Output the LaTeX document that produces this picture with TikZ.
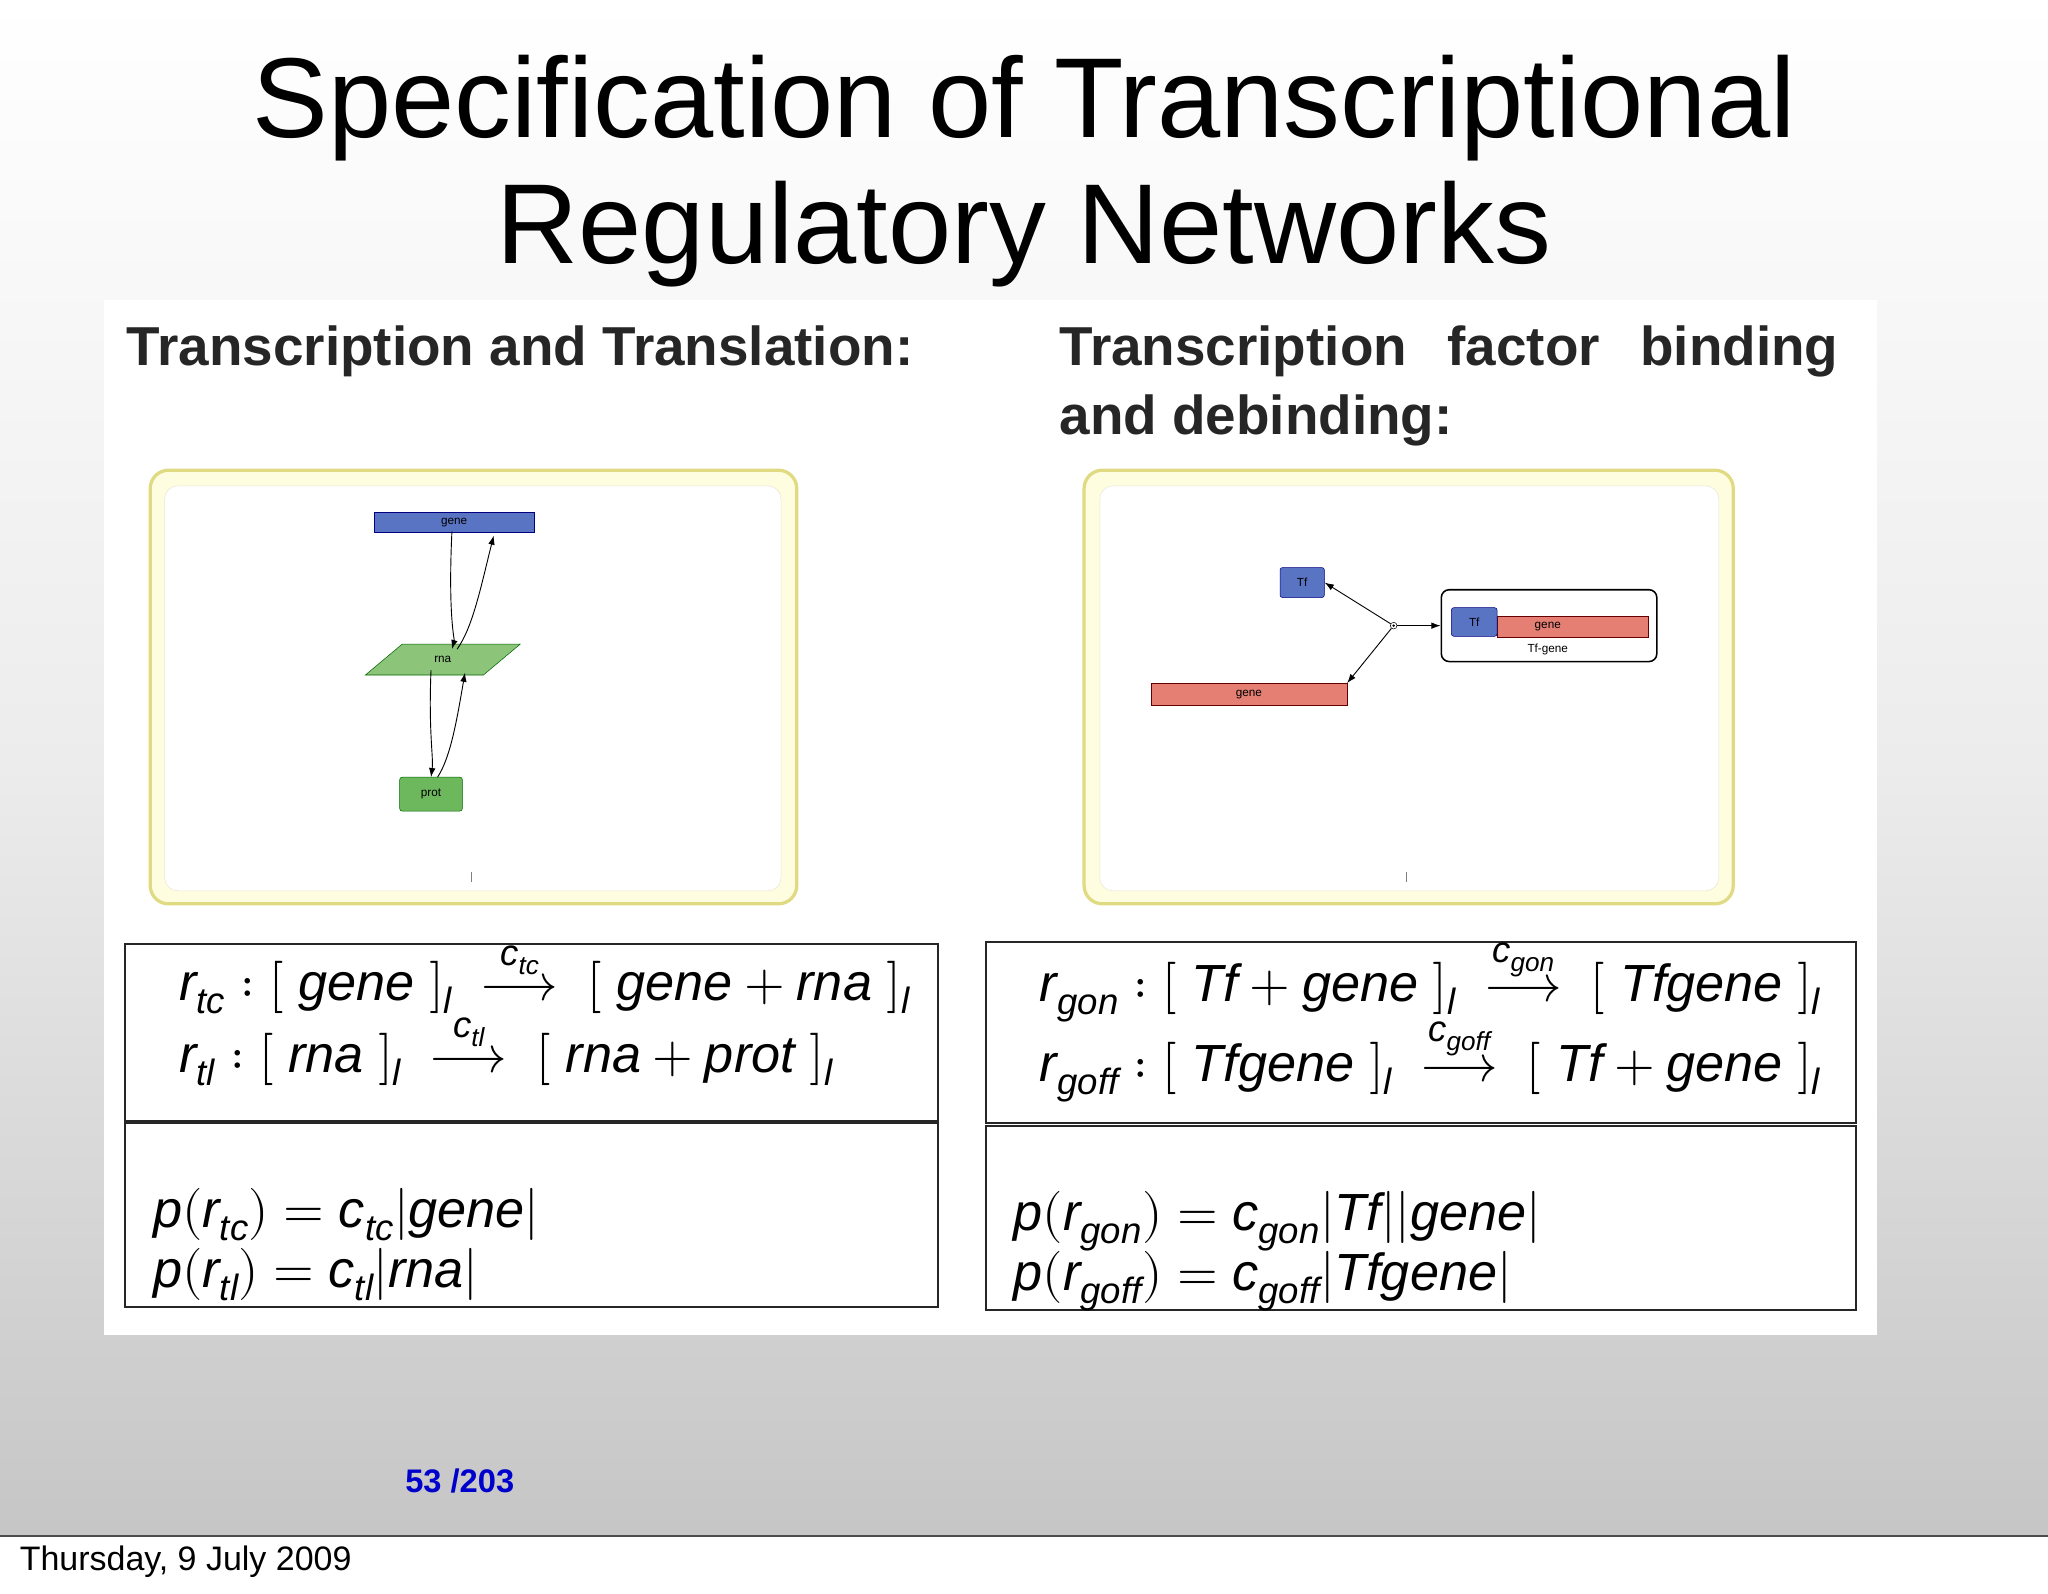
\documentclass[tikz,border=0pt]{standalone}
\usepackage{amsmath}
\usepackage{fontspec}
\usepackage{unicode-math}
\setmainfont{Liberation Sans}
\setmathfont{Latin Modern Math}
\usetikzlibrary{shapes.geometric,arrows.meta}
\definecolor{nblue}{HTML}{5A74C4}
\definecolor{ngreen}{HTML}{8CC47A}
\definecolor{pgreen}{HTML}{6DB85C}
\definecolor{nred}{HTML}{E57F73}
\newcommand{\mi}[1]{\mathit{#1}}
\newcommand{\rarr}[1]{\mathrel{\vbox{\offinterlineskip\halign{\hfil##\hfil\cr$\scriptstyle #1$\cr\noalign{\kern-1pt}$\longrightarrow$\cr}}}}
\begin{document}
\begin{tikzpicture}[x=1pt,y=-1pt,
  hd/.style={anchor=base west,font=\fontsize{42}{48}\selectfont\bfseries,text=black!85,inner sep=0},
  frame/.style={draw=yellow!60!gray!70,fill=yellow!12,line width=2.5pt,rounded corners=14pt},
  inner/.style={fill=white,draw=yellow!30!gray!30,rounded corners=10pt},
  tiny/.style={font=\fontsize{9}{10}\selectfont,inner sep=0},
  eqbox/.style={draw=black!85,line width=1.5pt},
  eq/.style={anchor=base west,inner sep=0,font=\fontsize{40}{46}\selectfont},
  arr/.style={-{Latex[length=7pt,width=5pt]},line width=0.7pt}]
\useasboundingbox (0,0) rectangle (1568,1220);
\fill[white] (0,0) rectangle (1568,1220);
\shade[top color=white,bottom color=gray!45,middle color=gray!15] (0,0) rectangle (1568,1176);
\draw[black!70,line width=1pt] (0,1176) -- (1568,1176);
\node[anchor=base,font=\fontsize{87}{100}\selectfont] (t1) at (784,105) {Specification of Transcriptional};
\node[anchor=base,font=\fontsize{87}{100}\selectfont] (t2) at (784,202) {Regulatory Networks};
\fill[white] (80,230) rectangle (1437,1022);
\node[hd] (h1) at (97,280) {Transcription and Translation:};
\node[hd] (h2) at (811,280) {Transcription\hspace{31pt}factor\hspace{31pt}binding};
\node[hd] (h3) at (811,333) {and debinding:};
% left frame
\draw[frame] (115,360) rectangle (610,692);
\draw[inner] (126,372) rectangle (598,682);
\node[draw=blue!50!black,fill=nblue,minimum width=123pt,minimum height=15pt,tiny,anchor=north west] (g) at (286,392) {gene};
\node[trapezium,trapezium left angle=40,trapezium right angle=140,draw=green!40!black,fill=ngreen,minimum width=119pt,minimum height=16pt,inner sep=0,tiny] (rna) at (339,505) {rna};
\node[draw=green!40!black,fill=pgreen,rounded corners=2pt,minimum width=48pt,minimum height=26pt,tiny] (prot) at (330,608) {prot};
\draw[arr] (346,407) .. controls (343,470) and (348,490) .. (346,497);
\draw[arr] (350,497) .. controls (362,480) and (368,450) .. (378,410);
\draw[arr] (330,513) .. controls (328,560) and (332,580) .. (330,595);
\draw[arr] (335,595) .. controls (345,580) and (350,550) .. (356,515);
\draw[black!50] (361,668) -- (361,675);
% right frame
\draw[frame] (830,360) rectangle (1327,692);
\draw[inner] (842,372) rectangle (1316,682);
\node[draw=blue!50!black,fill=nblue,rounded corners=2pt,minimum width=34pt,minimum height=23pt,tiny] (tf) at (997,446) {Tf};
\node[draw=black,line width=1.2pt,rounded corners=6pt,minimum width=165pt,minimum height=55pt] (cx) at (1186,479) {};
\node[draw=red!40!black,fill=nred,minimum width=116pt,minimum height=16pt,anchor=north west] (cg) at (1146,472) {};
\node[tiny] (cgl) at (1185,480) {gene};
\node[draw=blue!50!black,fill=nblue,rounded corners=2pt,minimum width=35pt,minimum height=22pt,tiny,anchor=north west] (ctf) at (1111,465) {Tf};
\node[tiny] (cl) at (1185,497) {Tf-gene};
\node[draw=red!40!black,fill=nred,minimum width=150pt,minimum height=17pt,tiny,anchor=north west] (g2) at (881,523) {gene};
\node[circle,draw,inner sep=1.8pt,fill=white] (rp) at (1067,479) {};
\fill (rp) circle (1pt);
\draw[arr] (rp) -- (tf.east);
\draw[arr] (rp) -- (cx.west);
\draw[arr] (rp) -- (g2.north east);
\draw[black!50] (1077,668) -- (1077,675);
% equation boxes
\draw[eqbox] (96,723) rectangle (718,858);
\draw[eqbox] (96,860) rectangle (718,1001);
\draw[eqbox] (755,721) rectangle (1421,860);
\draw[eqbox] (755,862) rectangle (1421,1003);
\node[eq] (e1) at (137,766) {$\mi{r}_{\mi{tc}}:[\;\mi{gene}\;]_{\mi{l}}\; \rarr{\mi{c}_{\mi{tc}}}\; [\;\mi{gene}+\mi{rna}\;]_{\mi{l}}$};
\node[eq] (e2) at (137,821) {$\mi{r}_{\mi{tl}}:[\;\mi{rna}\;]_{\mi{l}} \;\rarr{\mi{c}_{\mi{tl}}}\; [\;\mi{rna}+\mi{prot}\;]_{\mi{l}}$};
\node[eq] (e3) at (117,940) {$\mi{p}(\mi{r}_{\mi{tc}}) = \mi{c}_{\mi{tc}}|\mi{gene}|$};
\node[eq] (e4) at (117,986) {$\mi{p}(\mi{r}_{\mi{tl}}) = \mi{c}_{\mi{tl}}|\mi{rna}|$};
\node[eq] (e5) at (796,767) {$\mi{r}_{\mi{gon}}:[\;\mi{Tf}+\mi{gene}\;]_{\mi{l}}\; \rarr{\mi{c}_{\mi{gon}}}\; [\;\mi{Tfgene}\;]_{\mi{l}}$};
\node[eq] (e6) at (796,828) {$\mi{r}_{\mi{goff}}:[\;\mi{Tfgene}\;]_{\mi{l}}\; \rarr{\mi{c}_{\mi{goff}}}\; [\;\mi{Tf}+\mi{gene}\;]_{\mi{l}}$};
\node[eq] (e7) at (776,942) {$\mi{p}(\mi{r}_{\mi{gon}}) = \mi{c}_{\mi{gon}}|\mi{Tf}||\mi{gene}|$};
\node[eq] (e8) at (776,988) {$\mi{p}(\mi{r}_{\mi{goff}}) = \mi{c}_{\mi{goff}}|\mi{Tfgene}|$};
\node[font=\fontsize{25}{30}\selectfont\bfseries,text=blue!80!black] (pg) at (352,1134) {53 /203};
\node[anchor=west,font=\fontsize{26}{30}\selectfont,inner sep=0] (dt) at (15,1196) {Thursday, 9 July 2009};
\end{tikzpicture}
\end{document}
